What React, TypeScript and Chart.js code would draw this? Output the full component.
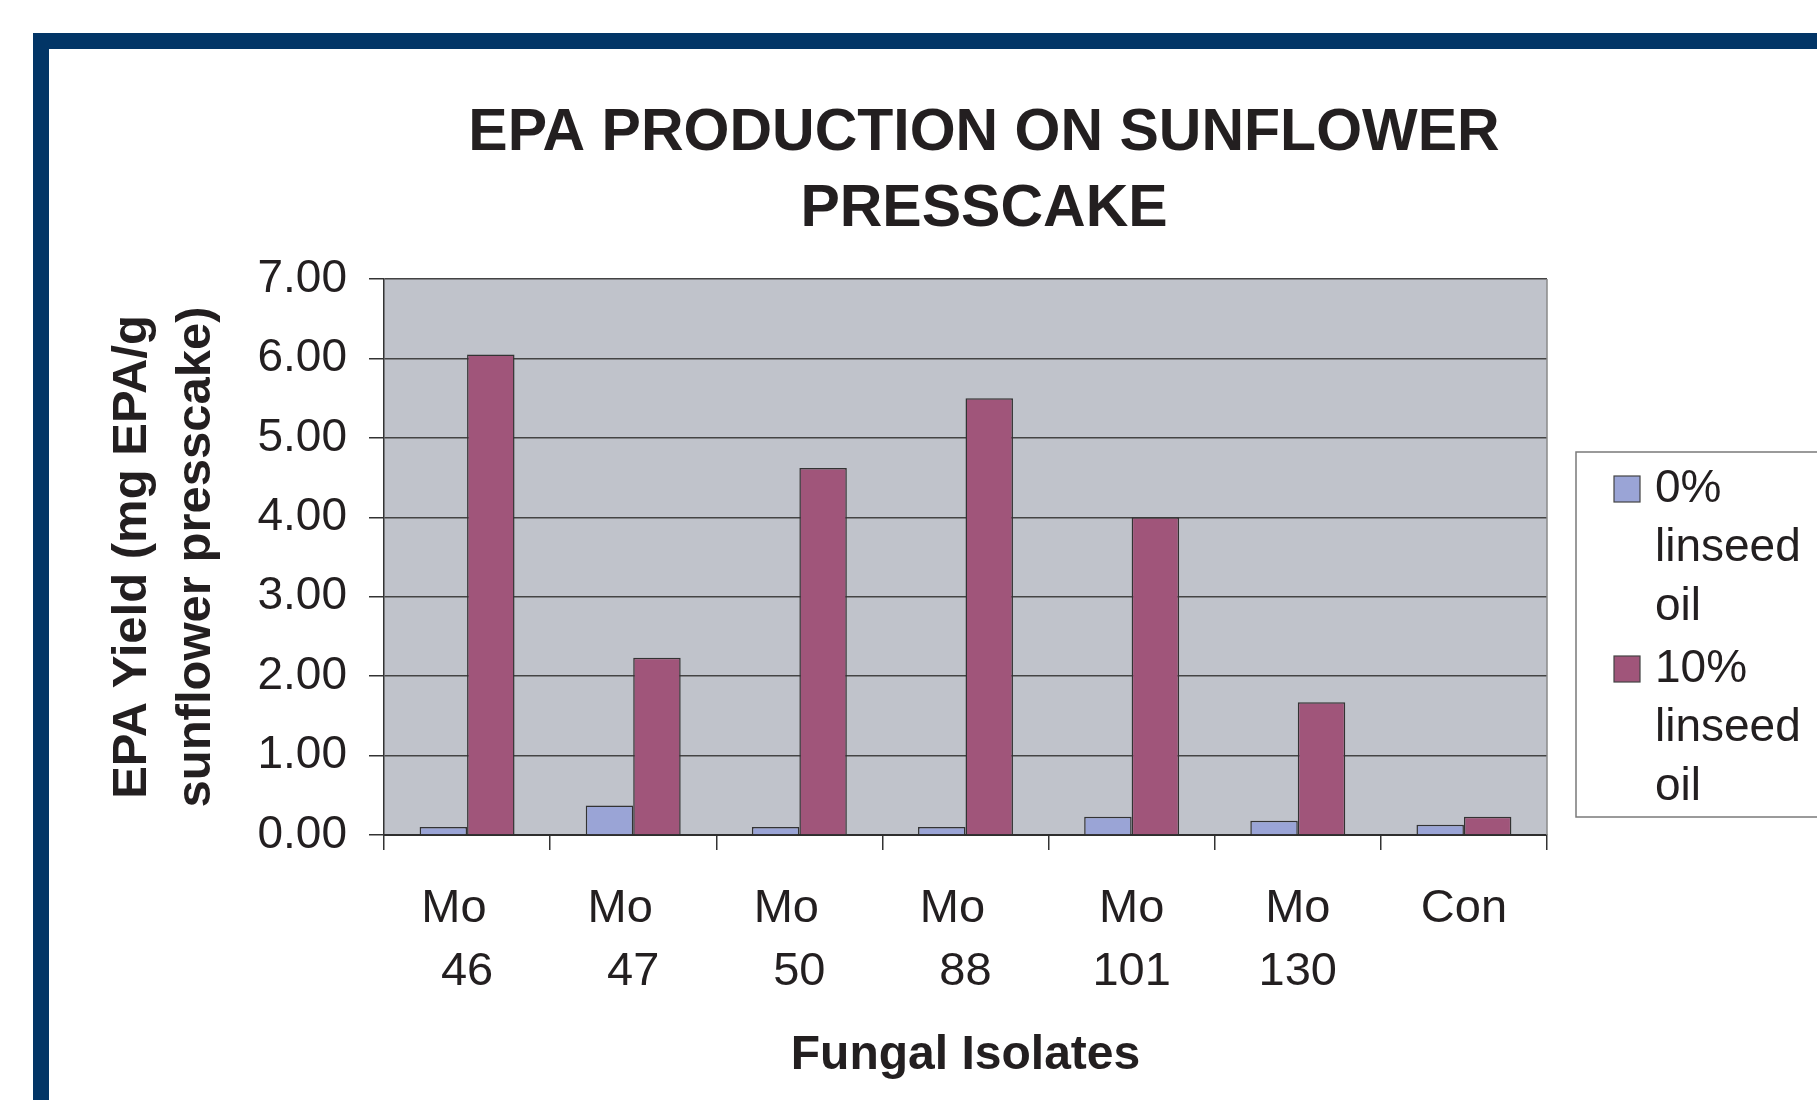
import React, { useEffect, useRef } from "react";
import { Chart, registerables } from "chart.js";

Chart.register(...registerables);

// ---------- data ----------
const categories: string[][] = [
  ["Mo  ", "46"],
  ["Mo  ", "47"],
  ["Mo  ", "50"],
  ["Mo  ", "88"],
  ["Mo", "101"],
  ["Mo", "130"],
  ["Con"],
];
const seriesLabels = ["0% linseed oil", "10% linseed oil"];
const values0pct = [0.1, 0.37, 0.1, 0.1, 0.23, 0.18, 0.13];
const values10pct = [6.05, 2.23, 4.62, 5.5, 4.0, 1.67, 0.23];
const yTickValues = [0, 1, 2, 3, 4, 5, 6, 7];
const titleLines = ["EPA PRODUCTION ON SUNFLOWER", "PRESSCAKE"];
const yTitleLines = ["EPA Yield (mg EPA/g", "sunflower presscake)"];
const xTitle = "Fungal Isolates";

// ---------- styles ----------
const FONT = "'Liberation Sans', Arial, Helvetica, sans-serif";
const TEXT = "#231f20";
const COLORS = ["#9aa4d6", "#a0557a"];
const PLOT_BG = "#c0c3cb";
const FRAME = "#023566";

const W = 1817;
const H = 1100;

const plotBgPlugin = {
  id: "plotBg",
  beforeDraw(chart: any) {
    const { ctx, chartArea: a } = chart;
    ctx.save();
    ctx.fillStyle = PLOT_BG;
    ctx.fillRect(a.left, a.top, a.right - a.left, a.bottom - a.top);
    ctx.restore();
  },
  afterDraw(chart: any) {
    const { ctx, chartArea: a } = chart;
    ctx.save();
    ctx.strokeStyle = "#8a8a8a";
    ctx.lineWidth = 1.5;
    ctx.beginPath();
    ctx.moveTo(a.right, a.top);
    ctx.lineTo(a.right, a.bottom);
    ctx.stroke();
    ctx.restore();
  },
};

const titlePlugin = {
  id: "slideTitle",
  afterDraw(chart: any) {
    const { ctx } = chart;
    ctx.save();
    ctx.fillStyle = TEXT;
    ctx.font = `bold 59px ${FONT}`;
    ctx.textAlign = "center";
    ctx.textBaseline = "middle";
    const ys = [134, 210];
    titleLines.forEach((t, i) => ctx.fillText(t, 984, ys[i]));
    ctx.restore();
  },
};

function wrapWords(ctx: CanvasRenderingContext2D, text: string, maxW: number): string[] {
  const words = text.split(" ");
  const lines: string[] = [];
  let cur = "";
  for (const w of words) {
    const test = cur ? cur + " " + w : w;
    if (cur && ctx.measureText(test).width > maxW) {
      lines.push(cur);
      cur = w;
    } else {
      cur = test;
    }
  }
  if (cur) lines.push(cur);
  return lines;
}

const legendPlugin = {
  id: "boxLegend",
  afterDraw(chart: any) {
    const { ctx, chartArea } = chart;
    const boxLeft = chartArea.right + 29;
    const boxTop = 452;
    const swX = boxLeft + 38;
    const sw = 26;
    const textX = boxLeft + 79;
    const lineH = 59;
    const itemGap = 3;
    ctx.save();
    ctx.font = `46px ${FONT}`;
    const maxW = chart.width - textX - 2;
    const items = chart.data.datasets.map((ds: any) => ({
      lines: wrapWords(ctx, ds.label, maxW),
      color: ds.backgroundColor,
    }));
    let y = boxTop + 37;
    const positions: number[] = [];
    items.forEach((it: any, i: number) => {
      positions.push(y);
      y += it.lines.length * lineH + (i < items.length - 1 ? itemGap : 0);
    });
    const lastY = y - lineH;
    const boxBottom = lastY + 30;
    ctx.fillStyle = "#ffffff";
    ctx.fillRect(boxLeft, boxTop, chart.width - boxLeft + 10, boxBottom - boxTop);
    ctx.strokeStyle = "#7a7a7a";
    ctx.lineWidth = 1.5;
    ctx.strokeRect(boxLeft, boxTop, chart.width - boxLeft + 10, boxBottom - boxTop);
    items.forEach((it: any, i: number) => {
      const y0 = positions[i];
      ctx.fillStyle = it.color;
      ctx.fillRect(swX, y0 - sw / 2, sw, sw);
      ctx.strokeStyle = "#444";
      ctx.lineWidth = 1.2;
      ctx.strokeRect(swX, y0 - sw / 2, sw, sw);
      ctx.fillStyle = TEXT;
      ctx.textAlign = "left";
      ctx.textBaseline = "middle";
      it.lines.forEach((ln: string, j: number) => ctx.fillText(ln, textX, y0 + j * lineH));
    });
    ctx.restore();
  },
};

export default function App() {
  const ref = useRef<HTMLCanvasElement | null>(null);

  useEffect(() => {
    if (!ref.current) return;
    const chart = new Chart(ref.current, {
      type: "bar",
      data: {
        labels: categories,
        datasets: [
          {
            label: seriesLabels[0],
            data: values0pct,
            backgroundColor: COLORS[0],
            borderColor: "#333333",
            borderWidth: 1.5,
            categoryPercentage: 2 / 3.5,
            barPercentage: 1,
          },
          {
            label: seriesLabels[1],
            data: values10pct,
            backgroundColor: COLORS[1],
            borderColor: "#333333",
            borderWidth: 1.5,
            categoryPercentage: 2 / 3.5,
            barPercentage: 1,
          },
        ],
      },
      options: {
        responsive: false,
        animation: false,
        layout: { padding: { top: 279, right: 270, bottom: 0, left: 0 } },
        plugins: {
          legend: { display: false },
          title: { display: false },
          tooltip: { enabled: false },
        },
        scales: {
          x: {
            grid: {
              offset: true,
              drawOnChartArea: false,
              drawTicks: true,
              tickLength: 15,
              color: "#333",
              tickColor: "#333",
              lineWidth: 1.5,
            },
            border: { display: true, color: "#2e2e2e", width: 2 },
            ticks: {
              font: { family: FONT, size: 47, lineHeight: 62.4 / 47 },
              color: TEXT,
              padding: 28,
              maxRotation: 0,
              minRotation: 0,
              autoSkip: false,
            },
            title: {
              display: true,
              text: xTitle,
              color: TEXT,
              font: { family: FONT, size: 48, weight: "bold", lineHeight: 1.2 },
              padding: { top: 0, bottom: 15 },
            },
            afterFit: (s: any) => {
              s.height = 265;
            },
          },
          y: {
            min: 0,
            max: 7,
            afterBuildTicks: (s: any) => {
              s.ticks = yTickValues.map((v) => ({ value: v }));
            },
            grid: {
              color: "#444",
              lineWidth: 1.5,
              drawTicks: true,
              tickLength: 15,
              tickColor: "#333",
            },
            border: { display: true, color: "#333", width: 1.5 },
            ticks: {
              font: { family: FONT, size: 46 },
              color: TEXT,
              padding: 22,
              callback: (v: any) => Number(v).toFixed(2),
            },
            title: {
              display: true,
              text: yTitleLines,
              color: TEXT,
              font: { family: FONT, size: 49, weight: "bold", lineHeight: 64 / 49 },
              padding: { top: 100, bottom: 0 },
            },
            afterFit: (s: any) => {
              s.width = 384;
            },
          },
        },
      },
      plugins: [plotBgPlugin, titlePlugin, legendPlugin],
    } as any);
    return () => chart.destroy();
  }, []);

  return (
    <div
      style={{
        position: "fixed",
        left: 0,
        top: 0,
        width: W,
        height: H,
        background: "#ffffff",
        overflow: "hidden",
      }}
    >
      <canvas ref={ref} width={W} height={H} style={{ position: "absolute", left: 0, top: 0, width: W, height: H }} />
      <div
        style={{
          position: "absolute",
          left: 33,
          top: 33,
          right: 0,
          bottom: 0,
          borderTop: `16px solid ${FRAME}`,
          borderLeft: `16px solid ${FRAME}`,
          pointerEvents: "none",
        }}
      />
    </div>
  );
}
